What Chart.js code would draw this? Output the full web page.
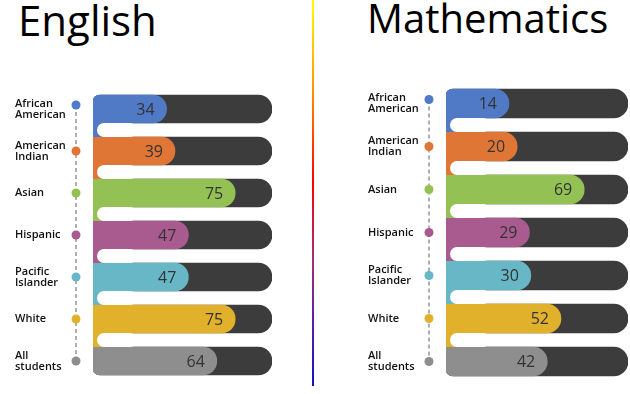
<!DOCTYPE html>
<html>
<head>
<meta charset="utf-8">
<script src="https://cdn.jsdelivr.net/npm/chart.js@4"></script>
<style>
  html, body { margin: 0; padding: 0; background: #fff; }
  body { width: 630px; height: 394px; position: relative; overflow: hidden; font-family: "Open Sans", sans-serif; }
  .title { position: absolute; color: #000; line-height: 1; white-space: nowrap; }
  .panel { position: absolute; top: 0; width: 310px; height: 394px; }
  #divider { position: absolute; left: 312px; top: 0; width: 2px; height: 386px;
    background: linear-gradient(to bottom, #ffff00 0%, #ff9a00 22%, #ff0000 47%, #a0307a 68%, #1010c8 100%); }
</style>
</head>
<body>
<div class="title" style="left:18px; top:-1px; font-size:42px;">English</div>
<div class="title" style="left:367px; top:-2px; font-size:40px;">Mathematics</div>
<div id="divider"></div>
<div class="panel" style="left:0"><canvas id="english"></canvas></div>
<div class="panel" style="left:320px"><canvas id="math"></canvas></div>
<script>
const groups = [["African", "American"], ["American", "Indian"], "Asian", "Hispanic", ["Pacific", "Islander"], "White", ["All", "students"]];
const englishScores = [34, 39, 75, 47, 47, 75, 64];
const mathScores = [14, 20, 69, 29, 30, 52, 42];
const groupColors = ["#5079c6", "#e07636", "#94c154", "#a95b8f", "#68b7c7", "#e2b12c", "#8e8e8e"];
const trackColor = "#3c3c3c";

// per-panel scale range (the infographic isn't drawn to a true 0-100 scale)
const englishRange = { min: -10, max: 97 };
const mathRange = { min: -32, max: 101 };

// colored strips joining each bar to the next one on the left side
const connectorPlugin = {
  id: "connectors",
  afterDatasetsDraw(chart) {
    const ctx = chart.ctx;
    const bars = chart.getDatasetMeta(0).data;
    ctx.save();
    for (let i = 0; i < bars.length - 1; i++) {
      const b = bars[i], nb = bars[i + 1];
      const y0 = b.y + b.height / 2;
      const y1 = nb.y - nb.height / 2;
      const h = y1 - y0;
      if (h <= 0) continue;
      ctx.fillStyle = groupColors[i];
      ctx.fillRect(b.base, y0, 10, h);
      ctx.fillStyle = "#fff";
      ctx.beginPath();
      ctx.roundRect(b.base + 4, y0, 40, h, h / 2);
      ctx.fill();
    }
    ctx.restore();
  }
};

const valueLabelPlugin = {
  id: "valueLabels",
  afterDatasetsDraw(chart) {
    const ctx = chart.ctx;
    const meta = chart.getDatasetMeta(0);
    const values = chart.data.datasets[0].data;
    ctx.save();
    ctx.font = "16px 'Open Sans'";
    ctx.fillStyle = "#333";
    ctx.textAlign = "right";
    ctx.textBaseline = "middle";
    meta.data.forEach((bar, i) => {
      ctx.fillText(String(values[i]), bar.x - 12, bar.y + 1);
    });
    ctx.restore();
  }
};

// dots and dashed guide between labels and bars
const dotsPlugin = {
  id: "dots",
  afterDraw(chart) {
    const ctx = chart.ctx;
    const bars = chart.getDatasetMeta(0).data;
    const x = chart.chartArea.left - 17;
    const dotY = i => bars[i].y - (i === 0 ? 4 : 0);
    ctx.save();
    ctx.strokeStyle = "#7a7a7a";
    ctx.lineWidth = 1.2;
    ctx.setLineDash([4, 3]);
    ctx.beginPath();
    ctx.moveTo(x, dotY(0));
    ctx.lineTo(x, dotY(bars.length - 1));
    ctx.stroke();
    ctx.setLineDash([]);
    bars.forEach((bar, i) => {
      ctx.fillStyle = groupColors[i];
      ctx.beginPath();
      ctx.arc(x, dotY(i), 4.5, 0, Math.PI * 2);
      ctx.fill();
    });
    ctx.restore();
  }
};

function makePanel(id, scores, range, padding, thickness) {
  const n = scores.length;
  new Chart(document.getElementById(id), {
    type: "bar",
    data: {
      labels: groups,
      datasets: [
        {
          data: scores,
          backgroundColor: groupColors,
          base: range.min,
          barThickness: thickness,
          borderSkipped: false,
          borderRadius: c => ({
            topLeft: c.dataIndex === 0 ? 7 : 0,
            bottomLeft: c.dataIndex === n - 1 ? 7 : 0,
            topRight: thickness / 2,
            bottomRight: thickness / 2
          })
        },
        {
          data: scores.map(() => range.max),
          backgroundColor: trackColor,
          base: range.min,
          barThickness: thickness,
          borderSkipped: false,
          borderRadius: { topLeft: 7, bottomLeft: 7, topRight: thickness / 2, bottomRight: thickness / 2 }
        }
      ]
    },
    options: {
      indexAxis: "y",
      responsive: true,
      maintainAspectRatio: false,
      animation: false,
      grouped: false,
      layout: { padding },
      scales: {
        x: { display: false, min: range.min, max: range.max },
        y: {
          grid: { display: false },
          border: { display: false },
          ticks: {
            crossAlign: "far",
            padding: 0,
            color: "#111",
            font: { family: "Open Sans", size: 11, weight: "600", lineHeight: 1.0 }
          },
          afterFit: s => { s.width = 78; }
        }
      },
      plugins: { legend: { display: false }, tooltip: { enabled: false } }
    },
    plugins: [connectorPlugin, valueLabelPlugin, dotsPlugin]
  });
}

makePanel("english", englishScores, englishRange, { left: 15, right: 38, top: 88, bottom: 12 }, 28);
makePanel("math", mathScores, mathRange, { left: 48, right: 2, top: 82, bottom: 11 }, 29);
</script>
</body>
</html>
